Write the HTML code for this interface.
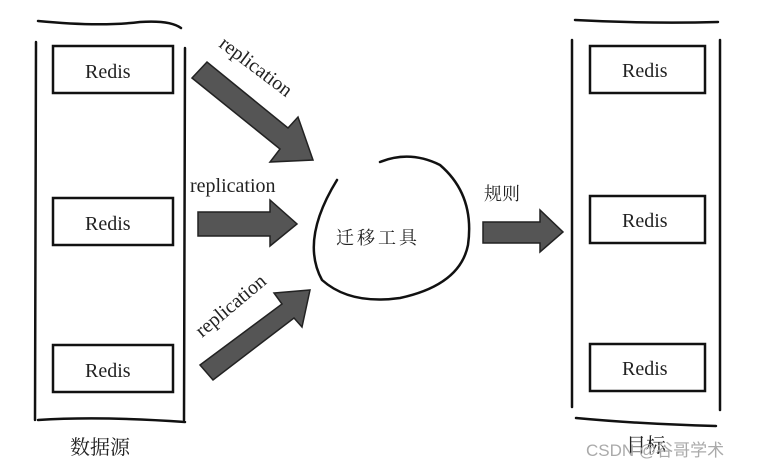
<!DOCTYPE html>
<html><head><meta charset="utf-8"><style>
body{margin:0;background:#fff}
svg{display:block}
text{font-family:"Liberation Serif","Noto Serif CJK SC",serif;fill:#222}
</style></head><body>
<svg width="764" height="468" viewBox="0 0 764 468" xmlns="http://www.w3.org/2000/svg">
<g fill="none" stroke="#111" stroke-width="2.5" stroke-linecap="round">
<path d="M38 21 Q100 27 140 22 Q170 20 181 28"/>
<path d="M36 42 L35 420"/><path d="M185 48 L184 420"/>
<path d="M38 420 Q100 416 185 422"/>
<rect x="53" y="46" width="120" height="47"/>
<rect x="53" y="198" width="120" height="47"/>
<rect x="53" y="345" width="120" height="47"/>
<path d="M575 20 Q650 24 718 22"/>
<path d="M572 40 L572 407"/><path d="M720 40 L720 410"/>
<path d="M576 418 Q640 424 716 426"/>
<rect x="590" y="46" width="115" height="47"/>
<rect x="590" y="196" width="115" height="47"/>
<rect x="590" y="344" width="115" height="47"/>
<path d="M337 180 Q300 240 322 280 Q350 305 400 298 Q460 285 468 245 Q475 195 440 165 Q410 150 380 162"/>
</g>
<g fill="#555" stroke="#222" stroke-width="1.5">
<polygon points="192,78 207,62 288,128 298,117 313,160 270,162 280,149"/>
<polygon points="198,212 270,212 270,200 297,224 270,246 270,236 198,236"/>
<polygon points="200,365 282,304 274,293 310,290 302,327 294,318 213,380"/>
<polygon points="483,222 540,222 540,210 563,232 540,252 540,243 483,243"/>
</g>
<g font-size="20">
<text x="85" y="78">Redis</text><text x="85" y="230">Redis</text><text x="85" y="377">Redis</text>
<text x="622" y="77">Redis</text><text x="622" y="227">Redis</text><text x="622" y="375">Redis</text>
<text x="190" y="192">replication</text>
<text transform="translate(218,46) rotate(37)">replication</text>
<text transform="translate(202,338) rotate(-40)">replication</text>
<text x="336" y="244" font-size="18" letter-spacing="3">迁移工具</text>
<text x="484" y="200" font-size="18">规则</text>
<text x="70" y="454" font-size="20">数据源</text>
<text x="626" y="452" font-size="20">目标</text>
</g>
<text x="586" y="456" font-size="17" style="font-family:'Liberation Sans','Noto Sans CJK SC',sans-serif;fill:#aaa">CSDN @谷哥学术</text>
</svg>
</body></html>
